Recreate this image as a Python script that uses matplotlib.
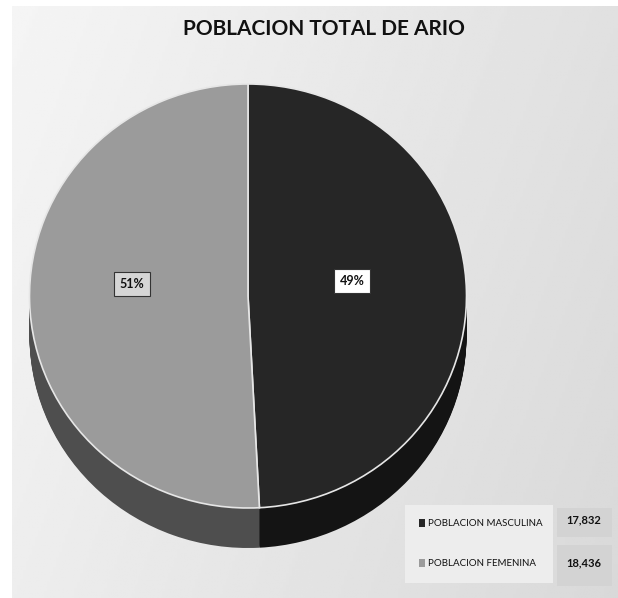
import numpy as np
import matplotlib
matplotlib.use("Agg")
import matplotlib.pyplot as plt
from matplotlib.patches import Rectangle

title = "POBLACION TOTAL DE ARIO"
categories = ["POBLACION MASCULINA", "POBLACION FEMENINA"]
values = [17832, 18436]
top_colors = ["#262626", "#9b9b9b"]
side_colors = ["#141414", "#4e4e4e"]

W, H = 618, 598
fig = plt.figure(figsize=(W / 100, H / 100), dpi=100)
fig.patch.set_facecolor("white")

# background gradient
bg = fig.add_axes([12 / W, 0, 1 - 12 / W, 1 - 6 / H])
yy, xx = np.mgrid[0:1:200j, 0:1:200j]
g = 0.96 - 0.08 * xx - 0.03 * (1 - yy)
bg.imshow(g, cmap="gray", vmin=0, vmax=1, aspect="auto", extent=[0, 1, 0, 1], origin="lower")
bg.set_axis_off()

fam = ["Lato", "DejaVu Sans"]

# pie axes mapped in pixel space
ax = fig.add_axes([0, 0, 1, 1])
ax.set_facecolor("none")
sx, sy = 218.5, 212.0
cx, cy = 248.0, H - 296.0
depth = 40.0 / sy
n = 40
for i in range(n, 0, -1):
    ax.pie(values, colors=side_colors, startangle=90, counterclock=False,
           center=(0, -depth * i / n), radius=1.0,
           wedgeprops=dict(linewidth=0))
wedges, _ = ax.pie(values, colors=top_colors, startangle=90, counterclock=False,
                   center=(0, 0), radius=1.0,
                   wedgeprops=dict(linewidth=1.2, edgecolor="#e6e6e6"))
ax.set_aspect("auto")
ax.set_xlim(-cx / sx, (W - cx) / sx)
ax.set_ylim(-cy / sy, (H - cy) / sy)
ax.set_axis_off()

# percentage labels
total = sum(values)
pcts = [v / total * 100 for v in values]
label_pos = [((352 - cx) / sx, (H - 281 - cy) / sy), ((132 - cx) / sx, (H - 284 - cy) / sy)]
box_faces = ["white", "#d6d6d6"]
for p, (lx, ly), fc in zip(pcts, label_pos, box_faces):
    ax.text(lx, ly, f"{p:.0f}%", ha="center", va="center", fontsize=9,
            fontweight="bold", family=fam, color="#111111",
            bbox=dict(boxstyle="square,pad=0.45", fc=fc, ec="#333333", lw=0.8))

# title
fig.text(324 / W, 1 - 29 / H, title, ha="center", va="center", fontsize=15,
         fontweight="bold", family=fam, color="#111111")

# legend table
def fx(px):
    return px / W

def fy(py):
    return 1 - py / H

fig.patches.append(Rectangle((fx(405), fy(583)), fx(148), 78 / H, transform=fig.transFigure,
                             fc="#ededed", ec="none", zorder=5))
cells = [(508, 537), (545, 586)]
for (y0, y1) in cells:
    fig.patches.append(Rectangle((fx(557), fy(y1)), fx(55), (y1 - y0) / H,
                                 transform=fig.transFigure, fc="#d3d3d3", ec="none", zorder=5))
rows_y = [523, 563]
val_y = [520, 563]
for cat, val, col, ry, vy in zip(categories, values, top_colors, rows_y, val_y):
    fig.patches.append(Rectangle((fx(419), fy(ry + 4)), fx(6), 8 / H, transform=fig.transFigure,
                                 fc=col, ec="none", zorder=6))
    fig.text(fx(428), fy(ry), cat, ha="left", va="center", fontsize=7,
             family=fam, color="#111111", zorder=7)
    fig.text(fx(584), fy(vy), f"{val:,}", ha="center", va="center", fontsize=8,
             fontweight="bold", family=fam, color="#111111", zorder=7)

fig.savefig("out.png", dpi=100, facecolor=fig.get_facecolor())
